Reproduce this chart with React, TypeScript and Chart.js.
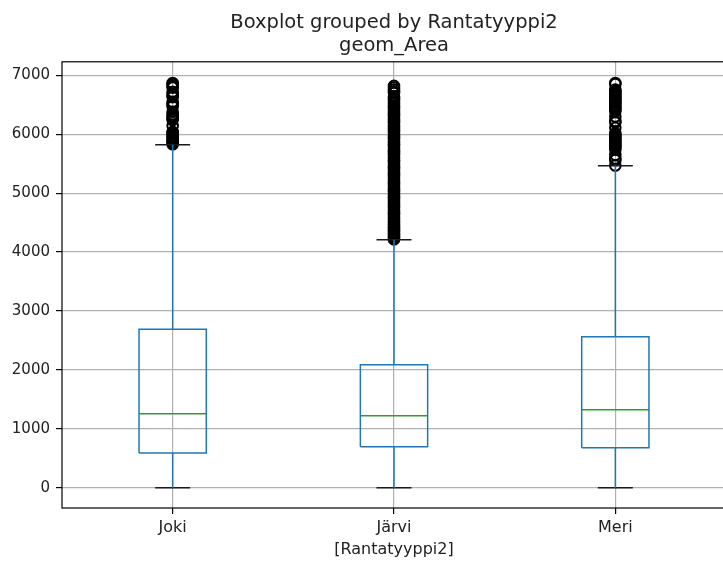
import React, { useEffect, useRef } from 'react';
import { Chart, registerables } from 'chart.js';

Chart.register(...registerables);

const categories = ['Joki', 'Järvi', 'Meri'];
const q1Values = [590, 696, 679];
const medianValues = [1255, 1222, 1324];
const q3Values = [2690, 2087, 2562];
const whiskerLow = [0, 0, 0];
const whiskerHigh = [5820, 4208, 5464];
const yTicks = [0, 1000, 2000, 3000, 4000, 5000, 6000, 7000];

const jokiOutliers = [5830, 5850, 5870, 5895, 5920, 5945, 5970, 5995, 6020, 6040, 6140, 6240, 6265, 6290, 6315, 6340, 6380, 6470, 6495, 6520, 6550, 6630, 6655, 6680, 6720, 6790, 6810, 6830, 6850, 6870];
const jarviOutliers = [4215, 4240, 4265, 4290, 4315, 4340, 4365, 4390, 4415, 4440, 4465, 4490, 4515, 4540, 4570, 4600, 4630, 4660, 4690, 4720, 4750, 4780, 4810, 4840, 4870, 4900, 4930, 4960, 4990, 5020, 5050, 5080, 5110, 5140, 5170, 5200, 5230, 5260, 5290, 5320, 5350, 5380, 5410, 5440, 5470, 5500, 5530, 5560, 5590, 5620, 5650, 5680, 5710, 5740, 5770, 5800, 5830, 5860, 5890, 5920, 5950, 5980, 6010, 6040, 6070, 6100, 6130, 6160, 6190, 6220, 6250, 6280, 6310, 6340, 6370, 6400, 6430, 6460, 6490, 6520, 6550, 6580, 6610, 6640, 6700, 6730, 6760, 6790, 6820];
const meriOutliers = [5470, 5560, 5590, 5650, 5740, 5765, 5790, 5815, 5840, 5865, 5890, 5915, 5940, 5965, 5990, 6015, 6110, 6200, 6225, 6300, 6390, 6415, 6440, 6465, 6490, 6515, 6540, 6565, 6590, 6615, 6640, 6665, 6690, 6715, 6740, 6760, 6850, 6870];
const outlierGroups = [jokiOutliers, jarviOutliers, meriOutliers];

const BOX_HALF = 0.152;
const CAP_HALF = 0.079;
const FONT = 'DejaVu Sans';
const TEXT = '#222';

type P = { x: number; y: number | null };

function buildSegments(make: (i: number) => P[][]): P[] {
  const out: P[] = [];
  categories.forEach((_, i) => {
    make(i).forEach((seg) => {
      seg.forEach((p) => out.push(p));
      out.push({ x: seg[seg.length - 1].x, y: null });
    });
  });
  return out;
}

const frame = {
  id: 'frame',
  afterDraw(chart: any) {
    const { ctx, chartArea } = chart;
    ctx.save();
    ctx.strokeStyle = '#000';
    ctx.lineWidth = 1.2;
    ctx.strokeRect(chartArea.left, chartArea.top, chartArea.right - chartArea.left, chartArea.bottom - chartArea.top);
    ctx.restore();
  },
};

export default function App() {
  const ref = useRef<HTMLCanvasElement | null>(null);

  useEffect(() => {
    document.documentElement.style.overflow = 'hidden';
    document.body.style.overflow = 'hidden';
    const canvas = ref.current;
    if (!canvas) return;

    const boxes = buildSegments((i) => {
      const c = i + 1;
      return [[
        { x: c - BOX_HALF, y: q1Values[i] },
        { x: c + BOX_HALF, y: q1Values[i] },
        { x: c + BOX_HALF, y: q3Values[i] },
        { x: c - BOX_HALF, y: q3Values[i] },
        { x: c - BOX_HALF, y: q1Values[i] },
      ]];
    });
    const whiskers = buildSegments((i) => {
      const c = i + 1;
      return [
        [{ x: c, y: q1Values[i] }, { x: c, y: whiskerLow[i] }],
        [{ x: c, y: q3Values[i] }, { x: c, y: whiskerHigh[i] }],
      ];
    });
    const caps = buildSegments((i) => {
      const c = i + 1;
      return [
        [{ x: c - CAP_HALF, y: whiskerLow[i] }, { x: c + CAP_HALF, y: whiskerLow[i] }],
        [{ x: c - CAP_HALF, y: whiskerHigh[i] }, { x: c + CAP_HALF, y: whiskerHigh[i] }],
      ];
    });
    const medians = buildSegments((i) => {
      const c = i + 1;
      return [[{ x: c - BOX_HALF, y: medianValues[i] }, { x: c + BOX_HALF, y: medianValues[i] }]];
    });
    const fliers: P[] = [];
    outlierGroups.forEach((g, i) => g.forEach((v) => fliers.push({ x: i + 1, y: v })));

    const lineDs = (data: P[], color: string, width: number) => ({
      type: 'line' as const,
      data,
      borderColor: color,
      backgroundColor: color,
      borderWidth: width,
      pointRadius: 0,
      spanGaps: false,
      fill: false,
      tension: 0,
    });

    const tickFont = { family: FONT, size: 15 };
    const labelFont = { family: FONT, size: 16 };
    const titleFont = { family: FONT, size: 19.5, weight: 'normal' as const };

    const chart = new Chart(canvas, {
      type: 'line',
      data: {
        datasets: [
          lineDs(whiskers, '#1f77b4', 1.5),
          lineDs(boxes, '#1f77b4', 1.5),
          lineDs(caps, '#1a1a1a', 1.5),
          lineDs(medians, '#2ca02c', 1.5),
          {
            type: 'scatter' as const,
            data: fliers,
            showLine: false,
            pointRadius: 5.3,
            pointBorderWidth: 2,
            pointBorderColor: '#000',
            pointBackgroundColor: 'rgba(0,0,0,0)',
          } as any,
        ],
      },
      options: {
        animation: false,
        responsive: false,
        devicePixelRatio: 1,
        events: [],
        layout: { padding: { left: 0, right: 14, top: 0, bottom: 0 } },
        plugins: {
          legend: { display: false },
          tooltip: { enabled: false },
          title: {
            display: true,
            text: 'Boxplot grouped by Rantatyyppi2',
            font: titleFont,
            color: TEXT,
            fullSize: false,
            padding: { top: 11, bottom: 0 },
          },
          subtitle: {
            display: true,
            text: 'geom_Area',
            font: titleFont,
            color: TEXT,
            fullSize: false,
            padding: { top: 0, bottom: 4 },
          },
        },
        scales: {
          x: {
            type: 'linear',
            min: 0.5,
            max: 3.5,
            afterBuildTicks: (s: any) => {
              s.ticks = categories.map((_, i) => ({ value: i + 1 }));
            },
            afterFit: (s: any) => {
              s.height = 54;
            },
            ticks: {
              font: labelFont,
              color: TEXT,
              padding: 4,
              autoSkip: false,
              maxRotation: 0,
              callback: (v: any) => categories[Number(v) - 1] ?? '',
            },
            grid: { color: '#b0b0b0', lineWidth: 1.2, tickColor: '#000', tickLength: 6, drawTicks: true },
            border: { display: false },
            title: {
              display: true,
              text: '[Rantatyyppi2]',
              font: labelFont,
              color: TEXT,
              padding: { top: 0, bottom: 3 },
            },
          },
          y: {
            type: 'linear',
            min: -344,
            max: 7229,
            afterBuildTicks: (s: any) => {
              s.ticks = yTicks.map((v) => ({ value: v }));
            },
            afterFit: (s: any) => {
              s.width = 62;
            },
            ticks: {
              font: tickFont,
              color: TEXT,
              padding: 6,
              callback: (v: any) => String(v),
            },
            grid: { color: '#b0b0b0', lineWidth: 1.2, tickColor: '#000', tickLength: 6, drawTicks: true },
            border: { display: false },
          },
        },
      } as any,
      plugins: [frame],
    });
    return () => chart.destroy();
  }, []);

  return (
    <div style={{ position: 'absolute', left: 0, top: 0, width: 740, height: 562, overflow: 'hidden', background: '#fff' }}>
      <canvas ref={ref} width={740} height={562} style={{ width: 740, height: 562, display: 'block' }} />
    </div>
  );
}
